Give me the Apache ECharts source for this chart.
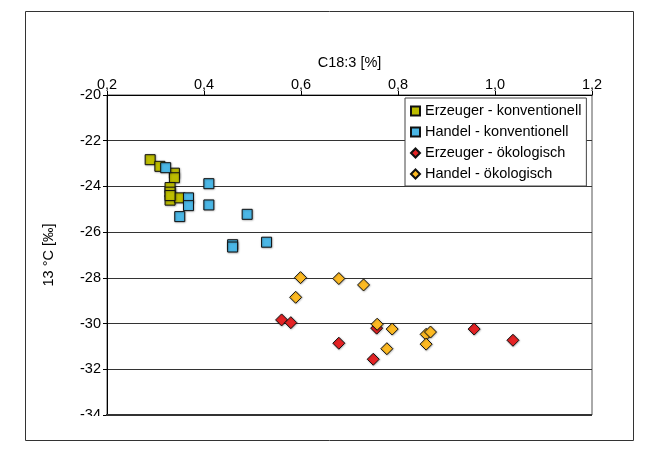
<!DOCTYPE html>
<html>
<head>
<meta charset="utf-8">
<script src="https://cdn.jsdelivr.net/npm/echarts@6/dist/echarts.min.js"></script>
<style>
  html, body { margin: 0; padding: 0; background: #fff; }
  #chart { width: 649px; height: 462px; }
</style>
</head>
<body>
<div id="chart"></div>
<script>
// C18:3 share [%] (x) against δ13C [‰] (y) for each sample group
const erzeugerKonvX = [0.289, 0.309, 0.339, 0.339, 0.330, 0.330, 0.330, 0.350, 0.330];
const erzeugerKonvY = [-22.83, -23.12, -23.42, -23.62, -24.05, -24.25, -24.60, -24.50, -24.40];

const handelKonvX = [0.321, 0.410, 0.368, 0.368, 0.410, 0.350, 0.489, 0.459, 0.459, 0.529];
const handelKonvY = [-23.18, -23.88, -24.50, -24.84, -24.81, -25.32, -25.22, -26.55, -26.65, -26.44];

const erzeugerOekoX = [0.560, 0.579, 0.756, 0.678, 0.749, 0.957, 1.037];
const erzeugerOekoY = [-29.84, -29.96, -30.20, -30.86, -31.56, -30.24, -30.73];

const handelOekoX = [0.599, 0.678, 0.729, 0.589, 0.757, 0.788, 0.777, 0.858, 0.867, 0.858];
const handelOekoY = [-27.99, -28.03, -28.31, -28.85, -30.03, -30.24, -31.10, -30.47, -30.37, -30.90];

const seriesNames = [
  'Erzeuger - konventionell',
  'Handel - konventionell',
  'Erzeuger - ökologisch',
  'Handel - ökologisch'
];

const xTitle = 'C18:3 [%]';
const yTitle = '13 °C [‰]';

const FONT = '"Liberation Sans", Arial, sans-serif';
const FS = 14.5;

function pairs(xs, ys) {
  return xs.map((x, i) => [x, ys[i]]);
}

function scatter(name, xs, ys, symbol, size, color) {
  return {
    name: name,
    type: 'scatter',
    symbol: symbol,
    symbolSize: size,
    data: pairs(xs, ys),
    itemStyle: {
      color: color,
      borderColor: '#111',
      borderWidth: 1,
      opacity: 1,
      shadowColor: 'rgba(0,0,0,0.3)',
      shadowBlur: 2,
      shadowOffsetX: 0.5,
      shadowOffsetY: 0.5
    },
    emphasis: { disabled: true },
    z: 3
  };
}

const chart = echarts.init(document.getElementById('chart'), null, { renderer: 'canvas' });

chart.setOption({
  animation: false,
  backgroundColor: '#fff',
  textStyle: { fontFamily: FONT },
  grid: {
    left: 107,
    right: 57,
    top: 95,
    bottom: 47,
    show: true,
    borderColor: '#555',
    borderWidth: 1,
    backgroundColor: 'transparent'
  },
  xAxis: {
    type: 'value',
    position: 'top',
    min: 0.2,
    max: 1.2,
    interval: 0.2,
    name: xTitle,
    nameLocation: 'middle',
    nameGap: 25,
    nameTextStyle: { fontFamily: FONT, fontSize: FS, color: '#000' },
    axisLine: { show: true, onZero: false, lineStyle: { color: '#000', width: 1 } },
    axisTick: { show: true, inside: false, length: 4, lineStyle: { color: '#000' } },
    axisLabel: {
      fontFamily: FONT, fontSize: FS, color: '#000', margin: 3,
      formatter: v => v.toFixed(1).replace('.', ',')
    },
    splitLine: { show: false }
  },
  yAxis: {
    type: 'value',
    min: -34,
    max: -20,
    interval: 2,
    name: yTitle,
    nameLocation: 'middle',
    nameGap: 51,
    nameRotate: 90,
    nameTextStyle: { fontFamily: FONT, fontSize: FS, color: '#000' },
    axisLine: { show: true, onZero: false, lineStyle: { color: '#000', width: 1 } },
    axisTick: { show: true, inside: false, length: 4, lineStyle: { color: '#000' } },
    axisLabel: {
      fontFamily: FONT, fontSize: FS, color: '#000', margin: 6,
      formatter: v => String(Math.round(v))
    },
    splitLine: { show: true, lineStyle: { color: '#333', width: 1 } }
  },
  legend: {
    show: true,
    orient: 'vertical',
    left: 405,
    top: 98,
    padding: [5, 5, 4, 5],
    itemGap: 5,
    itemWidth: 9,
    itemHeight: 9,
    itemTextGap: 7,
    backgroundColor: '#fff',
    borderColor: '#444',
    borderWidth: 1,
    textStyle: { fontFamily: FONT, fontSize: FS, color: '#000', lineHeight: 16 },
    selectedMode: false,
    data: [
      { name: seriesNames[0], icon: 'rect' },
      { name: seriesNames[1], icon: 'rect' },
      { name: seriesNames[2], icon: 'diamond' },
      { name: seriesNames[3], icon: 'diamond' }
    ],
    z: 10
  },
  graphic: [
    {
      // outer frame of the chart
      type: 'rect',
      shape: { x: 25.5, y: 11.5, width: 608, height: 429 },
      style: { fill: 'none', stroke: '#333', lineWidth: 1 },
      silent: true,
      z: 0
    },
    {
      // plot clips the lowest tick label
      type: 'rect',
      shape: { x: 30, y: 416, width: 74, height: 20 },
      style: { fill: '#fff' },
      silent: true,
      z: 100
    },
    {
      // heavier base line of the plot
      type: 'line',
      shape: { x1: 106, y1: 415, x2: 592, y2: 415 },
      style: { stroke: '#333', lineWidth: 2 },
      silent: true,
      z: 101
    }
  ],
  series: [
    scatter(seriesNames[0], erzeugerKonvX, erzeugerKonvY, 'rect', 10, '#BDBD00'),
    scatter(seriesNames[1], handelKonvX, handelKonvY, 'rect', 10, '#4BB7E6'),
    scatter(seriesNames[2], erzeugerOekoX, erzeugerOekoY, 'diamond', 12, '#E52325'),
    scatter(seriesNames[3], handelOekoX, handelOekoY, 'diamond', 12, '#FDBA22')
  ]
});
</script>
</body>
</html>
